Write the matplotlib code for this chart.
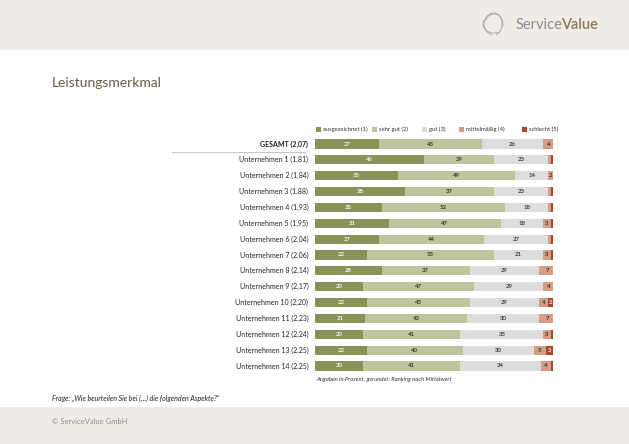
import matplotlib.pyplot as plt
from matplotlib.patches import Rectangle, Arc
import numpy as np

plt.rcParams['font.family'] = ['Lato', 'DejaVu Sans']

# Data (percent, rounded)
rows = ["GESAMT (2,07)", "Unternehmen 1 (1,81)", "Unternehmen 2 (1,84)", "Unternehmen 3 (1,88)",
        "Unternehmen 4 (1,93)", "Unternehmen 5 (1,95)", "Unternehmen 6 (2,04)", "Unternehmen 7 (2,06)",
        "Unternehmen 8 (2,14)", "Unternehmen 9 (2,17)", "Unternehmen 10 (2,20)", "Unternehmen 11 (2,23)",
        "Unternehmen 12 (2,24)", "Unternehmen 13 (2,25)", "Unternehmen 14 (2,25)"]
ausgezeichnet = [27, 46, 35, 38, 28, 31, 27, 22, 28, 20, 22, 21, 20, 22, 20]
sehr_gut = [43, 29, 49, 37, 52, 47, 44, 53, 37, 47, 43, 43, 41, 40, 41]
gut = [26, 23, 14, 23, 18, 18, 27, 21, 29, 29, 29, 30, 35, 30, 34]
mittelmaessig = [4, 1, 2, 1, 1, 3, 1, 3, 7, 4, 4, 7, 3, 5, 4]
schlecht = [0, 1, 1, 1, 1, 1, 1, 1, 0, 0, 2, 0, 1, 3, 1]

series = [ausgezeichnet, sehr_gut, gut, mittelmaessig, schlecht]
legend_labels = ["ausgezeichnet (1)", "sehr gut (2)", "gut (3)", "mittelmäßig (4)", "schlecht (5)"]
colors = ["#8a9159", "#bfc39e", "#dedddb", "#d69c84", "#a5482f"]
text_colors = ["white", "#2b2b2b", "#2b2b2b", "#2b2b2b", "white"]

W, H = 629, 444
fig = plt.figure(figsize=(W / 100, H / 100), dpi=100)

# overlay in pixel coordinates for the page decoration
deco = fig.add_axes([0, 0, 1, 1])
deco.set_xlim(0, W)
deco.set_ylim(H, 0)
deco.axis('off')
band = "#f1ece6"
deco.add_patch(Rectangle((0, 0), W, 50, color=band, lw=0))
deco.add_patch(Rectangle((0, 407), W, H - 407, color=band, lw=0))

# logo
for w, h, t1, t2 in [(20, 22, 100, 260), (18, 20, 200, 20), (22, 18, 60, 200), (16, 22, 250, 80)]:
    deco.add_patch(Arc((494, 24), w, h, theta1=t1, theta2=t2, color="#a8a39c", lw=0.6))
deco.text(516, 25, "Service", fontsize=10.5, color="#8d8d8d", va='center', ha='left')
deco.text(561, 25, "Value", fontsize=10.5, color="#8b7a5c", va='center', ha='left', fontweight='semibold')

deco.text(52, 83, "Leistungsmerkmal", fontsize=10, color="#6e5a45", va='center', ha='left')

# legend
leg_x = [316, 372, 422, 459, 522]
for x, lab, c in zip(leg_x, legend_labels, colors):
    deco.add_patch(Rectangle((x, 126.5), 5, 5, color=c, lw=0))
    deco.text(x + 7, 129, lab, fontsize=4.2, color="#333333", va='center', ha='left')

deco.plot([172, 305], [152, 152], color="#c8c8c8", lw=0.8)

deco.text(316, 379, "Angaben in Prozent, gerundet; Ranking nach Mittelwert", fontsize=4.2,
          style='italic', color="#333333", va='center', ha='left')
deco.text(52, 398, "Frage: \u201eWie beurteilen Sie bei (\u2026) die folgenden Aspekte?\u201c", fontsize=5,
          style='italic', color="#222222", va='center', ha='left')
deco.text(52, 421, "\u00a9 ServiceValue GmbH", fontsize=5.5, color="#8d8d8d", va='center', ha='left')

# chart
top, bottom = 136.1, 373.9
ax = fig.add_axes([315 / W, 1 - bottom / H, 238 / W, (bottom - top) / H])
ax.set_xlim(0, 100)
ax.set_ylim(len(rows) - 0.5, -0.5)
ax.axis('off')

y = np.arange(len(rows))
left = np.zeros(len(rows))
for vals, c, tc in zip(series, colors, text_colors):
    vals = np.array(vals, dtype=float)
    ax.barh(y, vals, left=left, height=0.58, color=c, lw=0)
    for yi, l, v in zip(y, left, vals):
        if v >= 2:
            ax.text(l + v / 2, yi, f"{int(v)}", ha='center', va='center', fontsize=4.3,
                    color=tc, fontweight='semibold')
    left += vals

for yi, lab in zip(y, rows):
    ax.text(-2.8, yi, lab, ha='right', va='center', fontsize=5, color="#222222",
            fontweight='bold' if yi == 0 else 'normal')

fig.savefig("out.png", dpi=100)
